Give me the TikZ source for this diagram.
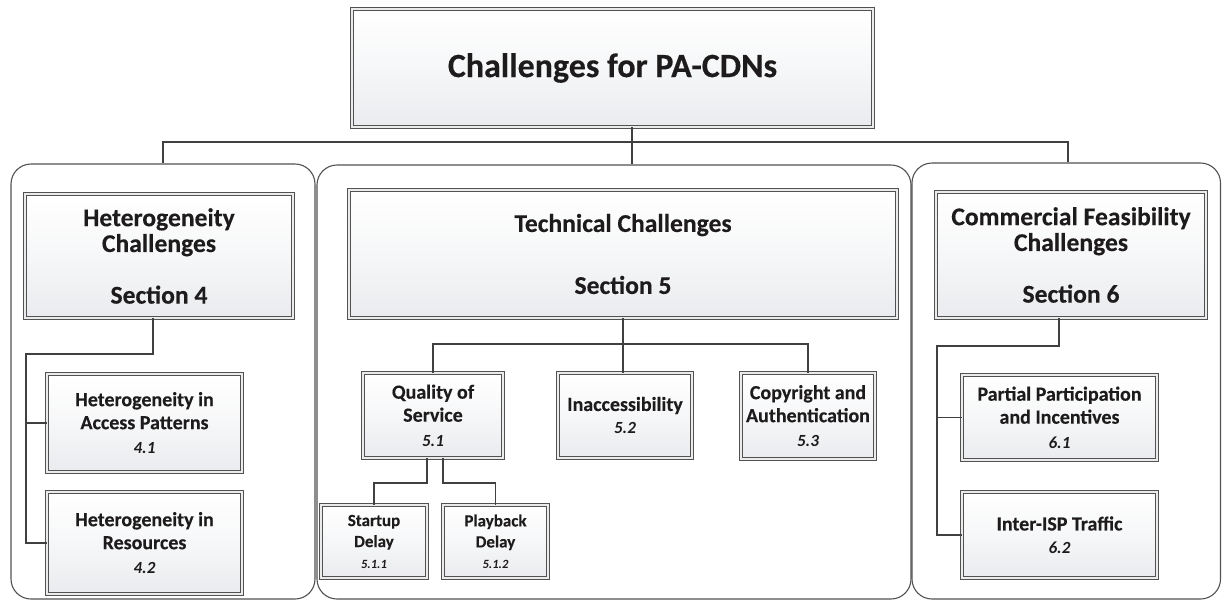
\documentclass[tikz,border=0pt]{standalone}
\usepackage{fontspec}
\setmainfont{Carlito}[BoldFeatures={FakeBold=0.25}]
\usetikzlibrary{shadows}
\definecolor{boxbot}{RGB}{233,235,238}
\definecolor{txt}{RGB}{30,27,28}
\tikzset{
  bx/.style={draw=black!68, line width=0.45pt, double=black!8, double distance=0.7pt,
    top color=white, bottom color=boxbot, middle color=white!60!boxbot, align=center, inner sep=0pt, text=txt,
    drop shadow={shadow xshift=0.6pt, shadow yshift=-0.6pt, fill=black, opacity=0.18}},
  panel/.style={draw=black!68, line width=0.55pt, rounded corners=10pt, inner sep=0pt},
  conn/.style={draw=black!75, line width=0.65pt},
  ttl/.style={font=\fontsize{17}{20}\selectfont\bfseries},
  hdr/.style={font=\fontsize{12.8}{12.9}\selectfont\bfseries},
  leaf/.style={font=\fontsize{10}{11.5}\selectfont\bfseries},
  sml/.style={font=\fontsize{8.5}{10.5}\selectfont\bfseries},
}
\newcommand{\numA}[1]{{\fontsize{8.5}{11.5}\selectfont\itshape #1}}
\newcommand{\numB}[1]{{\fontsize{6.3}{10}\selectfont\itshape #1}}
\begin{document}
\begin{tikzpicture}[x=0.5pt,y=-0.5pt]
\useasboundingbox (0,0) rectangle (1222,601);
% panels
\node[panel, minimum width=152pt, minimum height=217.5pt] (pL) at (163,381.5) {};
\node[panel, minimum width=297pt, minimum height=217pt] (pM) at (614,382) {};
\node[panel, minimum width=154.25pt, minimum height=218pt] (pR) at (1066.25,381) {};
% top
\node[bx, ttl, minimum width=260.5pt, minimum height=59pt] (top) at (612.5,68) {Challenges for PA-CDNs};
% section boxes
\node[bx, hdr, minimum width=134pt, minimum height=62pt] (het) at (159,256) {Heterogeneity\\Challenges\\[12.9pt]Section 4};
\node[bx, hdr, minimum width=274pt, minimum height=64pt] (tech) at (623,254) {Technical Challenges\\[18.1pt]Section 5};
\node[bx, hdr, minimum width=135pt, minimum height=63pt] (com) at (1071,255) {Commercial Feasibility\\Challenges\\[12.9pt]Section 6};
% leaves left
\node[bx, leaf, minimum width=97.5pt, minimum height=49pt] (h41) at (144.5,423) {Heterogeneity in\\Access Patterns\\[0.8pt]\numA{4.1}};
\node[bx, leaf, minimum width=97.5pt, minimum height=51pt] (h42) at (144.5,543) {Heterogeneity in\\Resources\\[0.8pt]\numA{4.2}};
% leaves right
\node[bx, leaf, minimum width=97.5pt, minimum height=42.5pt] (c61) at (1059.5,417.5) {Partial Participation\\and Incentives\\[0.8pt]\numA{6.1}};
\node[bx, leaf, minimum width=97.5pt, minimum height=43pt] (c62) at (1059.5,535) {Inter-ISP Traffic\\\numA{6.2}};
% middle leaves
\node[bx, leaf, minimum width=70pt, minimum height=42.5pt] (qos) at (433,415.5) {Quality of\\Service\\[0.8pt]\numA{5.1}};
\node[bx, leaf, minimum width=67pt, minimum height=42.5pt] (inac) at (625,415.5) {Inaccessibility\\\numA{5.2}};
\node[bx, leaf, minimum width=67pt, minimum height=43pt] (copy) at (808,416) {Copyright and\\Authentication\\[0.8pt]\numA{5.3}};
\node[bx, sml, minimum width=53pt, minimum height=36.5pt] (su) at (374,541.5) {Startup\\Delay\\\numB{5.1.1}};
\node[bx, sml, minimum width=52.5pt, minimum height=36.5pt] (pb) at (495.5,541.5) {Playback\\Delay\\\numB{5.1.2}};
% connectors: top to panels
\coordinate (tj) at (632,142);
\coordinate (sL) at (163,142);
\coordinate (sR) at (1068,142);
\draw[conn] (top.south -| tj) -- (tj |- pM.north);
\draw[conn] (sL |- pL.north) -- (sL) -- (sR) -- (sR |- pR.north);
% heterogeneity
\coordinate (hs) at (153,354);
\coordinate (hl) at (26,354);
\draw[conn] (het.south -| hs) -- (hs) -- (hl) |- (h42.west);
\draw[conn] (hl |- h41.west) -- (h41.west);
% commercial
\coordinate (cs) at (1059,346);
\coordinate (cl) at (937,346);
\draw[conn] (com.south -| cs) -- (cs) -- (cl) |- (c62.west);
\draw[conn] (cl |- c61.west) -- (c61.west);
% technical
\coordinate (tj2) at (623,344);
\draw[conn] (tech.south) -- (tech.south |- inac.north);
\draw[conn] (qos.north) |- (tj2) -| (copy.north);
% qos children
\coordinate (q1) at (427,483);
\coordinate (q2) at (443,483);
\draw[conn] (qos.south -| q1) -- (q1) -| (su.north);
\draw[conn] (qos.south -| q2) -- (q2) -| (pb.north);
\end{tikzpicture}
\end{document}
